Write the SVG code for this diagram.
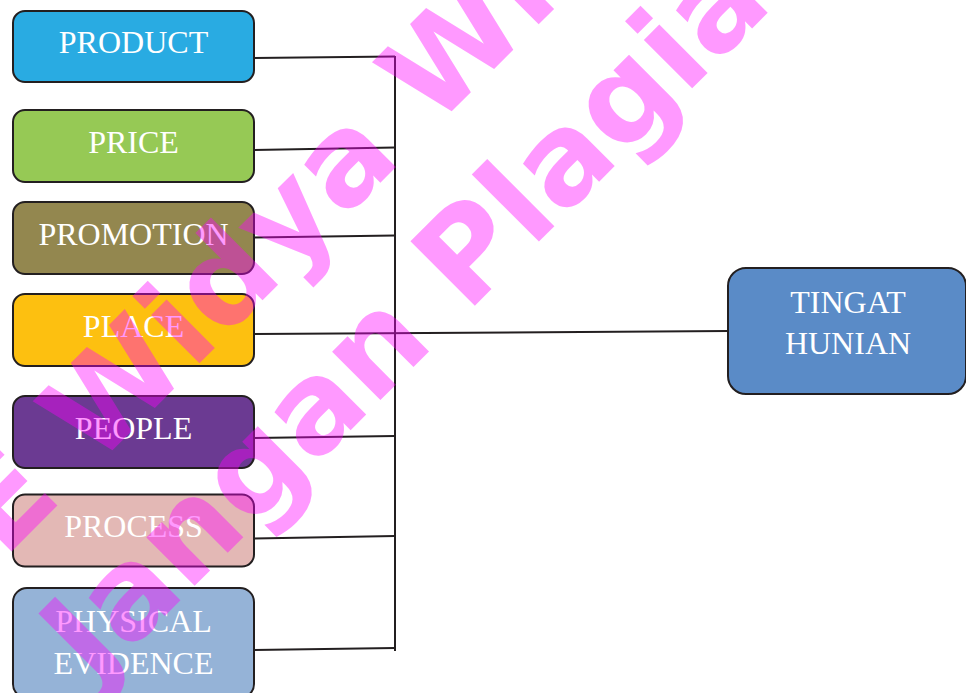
<svg xmlns="http://www.w3.org/2000/svg" width="966" height="693" viewBox="0 0 966 693">
  <style>
    .box { stroke: #231f20; stroke-width: 2; }
    .lbl { font-family: "Liberation Serif", "Times New Roman", serif; font-size: 32px; fill: #ffffff; text-anchor: middle; }
    .wire { fill: none; stroke: #231f20; stroke-width: 2; }
    .mark { font-family: "DejaVu Sans", "Liberation Sans", sans-serif; font-weight: bold; font-size: 125px; fill: #ff00ff; fill-opacity: 0.4; }
  </style>
  <rect width="966" height="693" fill="#ffffff"/>

  <!-- connectors: each factor joins a vertical bus, the bus feeds the result -->
  <g id="connectors">
    <line class="wire" x1="395" y1="56" x2="395" y2="651"/>
    <line class="wire" x1="254" y1="58" x2="395" y2="56.5"/>
    <line class="wire" x1="254" y1="150" x2="395" y2="147.5"/>
    <line class="wire" x1="254" y1="237.5" x2="395" y2="235.5"/>
    <line class="wire" x1="254" y1="334" x2="728" y2="331"/>
    <line class="wire" x1="254" y1="438" x2="395" y2="436"/>
    <line class="wire" x1="254" y1="538.5" x2="395" y2="536"/>
    <line class="wire" x1="254" y1="650" x2="395" y2="648"/>
  </g>

  <g id="product">
    <rect class="box" x="13" y="11" width="241" height="71" rx="12" fill="#29abe2"/>
    <text class="lbl" x="133.5" y="53">PRODUCT</text>
  </g>
  <g id="price">
    <rect class="box" x="13" y="110" width="241" height="72" rx="12" fill="#96c955"/>
    <text class="lbl" x="133.5" y="153">PRICE</text>
  </g>
  <g id="promotion">
    <rect class="box" x="13" y="202" width="241" height="72" rx="12" fill="#93874f"/>
    <text class="lbl" x="133.5" y="244.5">PROMOTION</text>
  </g>
  <g id="place">
    <rect class="box" x="13" y="294" width="241" height="72" rx="12" fill="#fdc010"/>
    <text class="lbl" x="133.5" y="336.5">PLACE</text>
  </g>
  <g id="people">
    <rect class="box" x="13" y="396" width="241" height="72" rx="12" fill="#6b3a92"/>
    <text class="lbl" x="133.5" y="439">PEOPLE</text>
  </g>
  <g id="process">
    <rect class="box" x="13" y="494.5" width="241" height="72" rx="12" fill="#e3b8b5"/>
    <text class="lbl" x="133.5" y="536.5">PROCESS</text>
  </g>
  <g id="physical-evidence">
    <rect class="box" x="13" y="588" width="241" height="110" rx="14" fill="#95b3d7"/>
    <text class="lbl" x="133.5" y="632">PHYSICAL</text>
    <text class="lbl" x="133.5" y="674">EVIDENCE</text>
  </g>
  <g id="tingat-hunian">
    <rect class="box" x="728" y="268" width="238" height="126" rx="18" fill="#5a8bc7"/>
    <text class="lbl" x="848" y="313">TINGAT</text>
    <text class="lbl" x="848" y="354">HUNIAN</text>
  </g>

  <!-- diagonal watermark laid over the whole sheet -->
  <g id="watermark">
    <text class="mark" transform="rotate(-45)" x="-615" y="398">STIE Widya Wiwaha</text>
    <text class="mark" transform="rotate(-45)" x="-418" y="552">Jangan Plagiat</text>
  </g>
</svg>
